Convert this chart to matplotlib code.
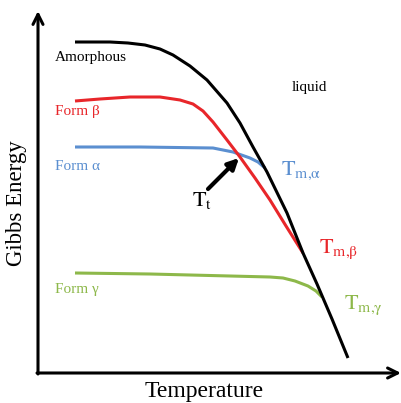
import matplotlib.pyplot as plt

plt.rcParams['font.family'] = ['Liberation Serif', 'DejaVu Serif']
plt.rcParams['mathtext.fontset'] = 'stix'

# --------------------------------------------------
# Curve points (pixel-like units, y grows downward)
# --------------------------------------------------
amorph_x = [75, 110, 128, 145, 160, 173, 190, 207, 227, 240, 253, 267, 287, 303, 317, 332, 348]
amorph_y = [42, 42, 43, 45, 49, 55, 66, 80, 103, 123, 147, 172, 213, 253, 284, 319, 358]

beta_x = [75, 100, 130, 160, 180, 193, 203, 213, 227, 240, 255, 270, 286, 303]
beta_y = [101, 99, 97, 97, 100, 104, 111, 122, 140, 157, 178, 200, 226, 253]

alpha_x = [75, 140, 213, 233, 250, 258, 265]
alpha_y = [147, 147, 148, 152, 158, 162, 168]

gamma_x = [75, 150, 230, 270, 283, 295, 308, 316, 322]
gamma_y = [273, 274, 276, 277, 278, 281, 286, 291, 297]

black = '#000000'
red = '#e8262a'
blue = '#5b8fd0'
green = '#8db84a'

fig = plt.figure(figsize=(4.01, 4.03), dpi=100)
ax = fig.add_axes([0, 0, 1, 1])
ax.set_xlim(0, 401)
ax.set_ylim(403, 0)
ax.axis('off')

# curves
ax.plot(gamma_x, gamma_y, color=green, lw=2.2, solid_capstyle='butt', solid_joinstyle='round')
ax.plot(alpha_x, alpha_y, color=blue, lw=2.2, solid_capstyle='butt', solid_joinstyle='round')
ax.plot(beta_x, beta_y, color=red, lw=2.2, solid_capstyle='butt', solid_joinstyle='round')
ax.plot(amorph_x, amorph_y, color=black, lw=2.2, solid_capstyle='butt', solid_joinstyle='round')

# axes with open arrow heads
arrow_kw = dict(arrowstyle='->', lw=2.2, color='k', mutation_scale=18,
                shrinkA=0, shrinkB=0)
ax.annotate('', xy=(38, 11), xytext=(38, 374), arrowprops=arrow_kw)
ax.annotate('', xy=(401, 373), xytext=(37, 373), arrowprops=arrow_kw)

# transition arrow
ax.annotate('', xy=(239, 158), xytext=(208, 189),
            arrowprops=dict(arrowstyle='-|>', lw=3, color='k',
                            mutation_scale=16, shrinkA=0, shrinkB=0))

# labels
ax.text(55, 58, 'Amorphous', color=black, fontsize=11, va='center', ha='left')
ax.text(55, 112, 'Form β', color=red, fontsize=11, va='center', ha='left')
ax.text(55, 166, 'Form α', color=blue, fontsize=11, va='center', ha='left')
ax.text(55, 290, 'Form γ', color=green, fontsize=11, va='center', ha='left')
ax.text(292, 88, 'liquid', color=black, fontsize=11, va='center', ha='left')

ax.text(281, 175, r'$\mathrm{T_{m{,}\alpha}}$', color=blue, fontsize=16, va='baseline', ha='left')
ax.text(192, 206, r'$\mathrm{T_{t}}$', color=black, fontsize=16, va='baseline', ha='left')
ax.text(319, 253, r'$\mathrm{T_{m{,}\beta}}$', color=red, fontsize=16, va='baseline', ha='left')
ax.text(344, 309, r'$\mathrm{T_{m{,}\gamma}}$', color=green, fontsize=16, va='baseline', ha='left')

ax.text(17, 203, 'Gibbs Energy', color=black, fontsize=16.5, rotation=90,
        va='center', ha='center')
ax.text(204, 392, 'Temperature', color=black, fontsize=17, va='center', ha='center')

fig.savefig('out.png', dpi=100)
